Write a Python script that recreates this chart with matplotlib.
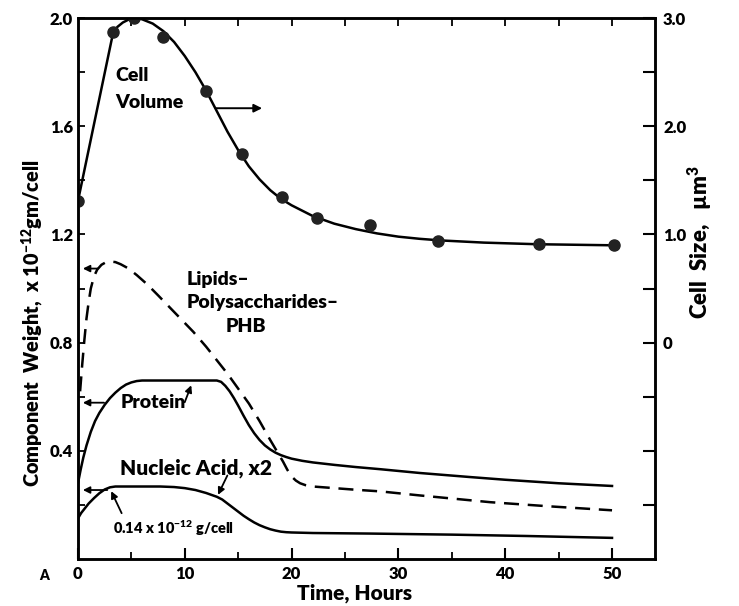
import matplotlib.pyplot as plt
from matplotlib.ticker import FixedLocator

plt.rcParams['font.family'] = ['Lato', 'DejaVu Sans']
plt.rcParams['font.weight'] = 'heavy'
plt.rcParams['axes.labelweight'] = 'heavy'
plt.rcParams['mathtext.fontset'] = 'custom'
plt.rcParams['mathtext.rm'] = 'Lato:heavy'
plt.rcParams['mathtext.default'] = 'rm'

# cell volume, measured points (right axis, um^3)
vol_t = [0, 3.3, 5.2, 8.0, 12.0, 15.4, 19.1, 22.4, 27.3, 33.7, 43.2, 50.2]
vol_pts = [1.31, 2.87, 3.0, 2.83, 2.33, 1.74, 1.35, 1.15, 1.09, 0.94, 0.91, 0.90]
# cell volume, drawn curve
vol_ct = [0, 3.3, 3.7, 4.2, 4.8, 5.4, 6.0, 7.0, 8.0, 9.0, 10, 11, 12, 13, 14, 15, 16, 17,
          18, 19, 20, 21, 22, 23, 24, 26, 28, 30, 32, 34, 38, 43, 50.2]
vol_cv = [1.31, 2.87, 2.92, 2.96, 2.99, 3.0, 2.99, 2.95, 2.88, 2.78, 2.65, 2.50, 2.33, 2.14,
          1.95, 1.78, 1.63, 1.51, 1.41, 1.33, 1.27, 1.22, 1.17, 1.135, 1.10, 1.05, 1.01, 0.98,
          0.96, 0.945, 0.925, 0.91, 0.90]

# lipids - polysaccharides - PHB (dashed)
lip_t = [0.2, 0.4, 0.6, 0.8, 1.0, 1.2, 1.5, 1.8, 2.2, 2.6, 3.0, 3.5, 4.0, 4.7, 5.5, 6.5, 7.5,
         8.6, 9.7, 10.8, 12, 13, 14, 15, 16, 17, 18, 18.6, 19.2, 19.6, 20, 20.4, 20.8, 21.3,
         22, 24, 26, 28.3, 32, 38.6, 44, 50]
lip_w = [0.62, 0.72, 0.81, 0.89, 0.95, 1.0, 1.045, 1.07, 1.088, 1.097, 1.10, 1.098, 1.09,
         1.075, 1.05, 1.015, 0.975, 0.93, 0.885, 0.84, 0.785, 0.735, 0.685, 0.63, 0.575, 0.51,
         0.44, 0.40, 0.36, 0.33, 0.305, 0.29, 0.28, 0.273, 0.268, 0.262, 0.256, 0.25, 0.235,
         0.21, 0.195, 0.18]

# protein
pro_t = [0, 0.25, 0.5, 0.8, 1.2, 1.6, 2.0, 2.5, 3.0, 3.5, 4.0, 4.5, 5.0, 5.5, 6.0, 13.0,
         13.4, 13.8, 14.2, 14.6, 15.0, 15.5, 16.0, 16.5, 17.0, 17.5, 18.0, 18.5, 19.0, 19.5,
         20.0, 21.0, 22.0, 24, 26, 28.3, 32, 36.7, 40, 45, 50]
pro_w = [0.28, 0.33, 0.375, 0.42, 0.47, 0.51, 0.54, 0.57, 0.595, 0.615, 0.632, 0.645, 0.653,
         0.658, 0.66, 0.66, 0.655, 0.64, 0.62, 0.595, 0.567, 0.53, 0.495, 0.465, 0.44, 0.42,
         0.405, 0.393, 0.384, 0.377, 0.371, 0.363, 0.357, 0.348, 0.34, 0.332, 0.318, 0.303,
         0.293, 0.28, 0.27]

# nucleic acid x2
nuc_t = [0, 0.3, 0.6, 1.0, 1.5, 2.0, 2.5, 3.0, 3.5, 7.7, 9, 10, 11, 12, 13, 13.5, 14, 14.5,
         15, 15.5, 16, 16.5, 17, 17.5, 18, 18.5, 19, 19.5, 20, 21, 22, 27.3, 35, 42, 50]
nuc_w = [0.15, 0.17, 0.185, 0.205, 0.225, 0.243, 0.257, 0.265, 0.268, 0.268, 0.266, 0.262,
         0.255, 0.244, 0.23, 0.22, 0.205, 0.19, 0.175, 0.16, 0.147, 0.135, 0.125, 0.117, 0.11,
         0.105, 0.101, 0.099, 0.098, 0.097, 0.096, 0.094, 0.09, 0.085, 0.078]

x_major = [0, 10, 20, 30, 40, 50]
x_minor = [5, 15, 25, 35, 45]
left_major = [0.4, 0.8, 1.2, 1.6, 2.0]
left_minor = [0.2, 0.6, 1.0, 1.4, 1.8]
right_major = [0, 1, 2, 3]
right_labels = ['0', '1.0', '2.0', '3.0']
right_minor = [-1.5, -1.0, -0.5, 0.5, 1.5, 2.5]

fig = plt.figure(figsize=(7.39, 6.06), dpi=100)
ax = fig.add_axes([0.1055, 0.0776, 0.7805, 0.8924])
ax2 = ax.twinx()

ax.plot(pro_t, pro_w, color='black', lw=1.8)
ax.plot(nuc_t, nuc_w, color='black', lw=1.8)
ax.plot(lip_t, lip_w, color='black', lw=1.8, dashes=(6, 3.5))
ax2.plot(vol_ct, vol_cv, color='black', lw=1.8)
ax2.plot(vol_t, vol_pts, 'o', color='#222222', ms=8)

ax.set_xlim(0, 54)
ax.set_ylim(0, 2.0)
ax2.set_ylim(-2.0, 3.0)

ax.xaxis.set_major_locator(FixedLocator(x_major))
ax.xaxis.set_minor_locator(FixedLocator(x_minor))
ax.yaxis.set_major_locator(FixedLocator(left_major))
ax.yaxis.set_minor_locator(FixedLocator(left_minor))
ax.tick_params(axis='x', which='major', direction='in', length=8, width=1.5, top=False,
               labelsize=12, pad=5)
ax.tick_params(axis='x', which='minor', direction='in', length=5, width=1.3, top=False)
ax.tick_params(axis='y', which='both', direction='in', length=5, width=1.3, labelsize=12)

ax2.yaxis.set_major_locator(FixedLocator(right_major))
ax2.yaxis.set_minor_locator(FixedLocator(right_minor))
ax2.set_yticklabels(right_labels)
ax2.tick_params(axis='y', which='both', direction='in', length=9, width=1.5, labelsize=12, pad=6)

# top ticks every 5 h, pointing down
ax3 = ax.secondary_xaxis('top')
ax3.set_xticks(x_minor + x_major[1:])
ax3.set_xticklabels([])
ax3.tick_params(direction='in', length=6, width=1.3)

for a in (ax, ax2):
    for s in a.spines.values():
        s.set_linewidth(1.8)

ax.set_xlabel('Time, Hours', fontsize=15)
ax.xaxis.set_label_coords(0.48, -0.063)
ax.xaxis.label.set_va('center')
ax.set_ylabel('Component  Weight,  x 10$^{-12}$gm/cell', fontsize=14.3)
ax.yaxis.set_label_coords(-0.078, 0.436)
ax.yaxis.label.set_va('center')
ax2.set_ylabel('Cell  Size,   \u00b5m$^{3}$', fontsize=16)
ax2.yaxis.set_label_coords(1.078, 0.586)
ax2.yaxis.label.set_va('center')

tk = dict(fontsize=14, color='black', va='center')
ax.text(3.5, 1.789, 'Cell', **tk)
ax.text(3.5, 1.689, 'Volume', **tk)
ax.annotate('', xy=(17.5, 1.667), xytext=(12.6, 1.667),
            arrowprops=dict(arrowstyle='-|>', color='black', lw=1.4, mutation_scale=12))

ax.text(10.2, 1.033, 'Lipids\u2013', **tk)
ax.text(10.2, 0.948, 'Polysaccharides\u2013', **tk)
ax.text(13.8, 0.859, 'PHB', **tk)
ax.annotate('', xy=(0.2, 1.074), xytext=(2.1, 1.074),
            arrowprops=dict(arrowstyle='-|>', color='black', lw=1.3, mutation_scale=10))

ax.text(4.0, 0.578, 'Protein', **tk)
ax.annotate('', xy=(0.2, 0.578), xytext=(2.7, 0.578),
            arrowprops=dict(arrowstyle='-|>', color='black', lw=1.3, mutation_scale=10))
ax.annotate('', xy=(10.7, 0.652), xytext=(9.9, 0.57),
            arrowprops=dict(arrowstyle='-|>', color='black', lw=1.3, mutation_scale=10))

ax.text(3.9, 0.335, 'Nucleic Acid, x2', fontsize=15, color='black', va='center')
ax.annotate('', xy=(0.2, 0.255), xytext=(3.0, 0.255),
            arrowprops=dict(arrowstyle='-|>', color='black', lw=1.3, mutation_scale=10))
ax.annotate('', xy=(13.0, 0.228), xytext=(14.1, 0.318),
            arrowprops=dict(arrowstyle='-|>', color='black', lw=1.3, mutation_scale=10))

ax.text(3.3, 0.115, '0.14 x 10$^{-12}$ g/cell', va='center', fontsize=10.5)
ax.annotate('', xy=(3.0, 0.26), xytext=(4.2, 0.16),
            arrowprops=dict(arrowstyle='-|>', color='black', lw=1.3, mutation_scale=10))

fig.text(44 / 739, 1 - 576 / 606, 'A', fontsize=10, ha='center', va='center')

fig.savefig('out.png', dpi=100)
